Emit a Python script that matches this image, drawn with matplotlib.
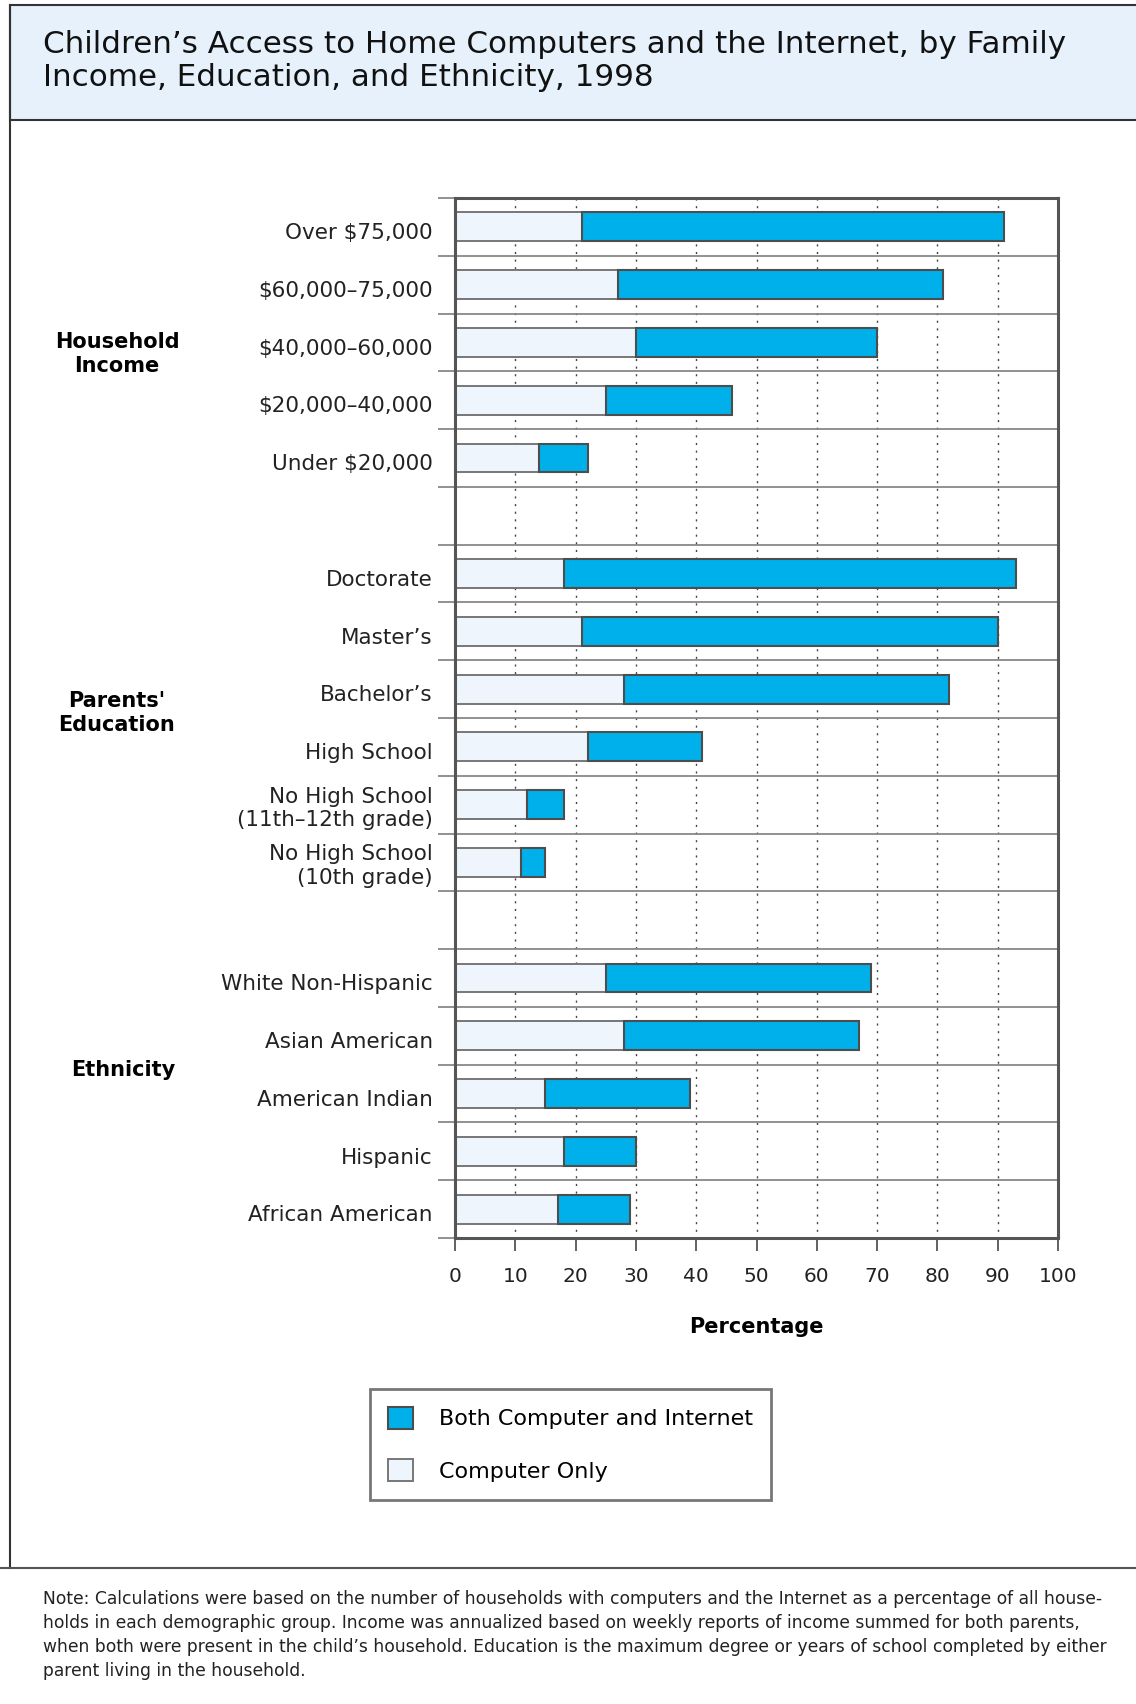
import numpy as np
import matplotlib
matplotlib.use('Agg')
import matplotlib.pyplot as plt
from matplotlib.patches import Rectangle
from matplotlib.lines import Line2D
from matplotlib.transforms import ScaledTranslation

plt.rcParams['font.family'] = ['DejaVu Sans']

# Data (percent of children)
income_labels = ['Over $75,000', '$60,000–75,000', '$40,000–60,000',
                 '$20,000–40,000', 'Under $20,000']
income_computer_only = [21, 27, 30, 25, 14]
income_both = [70, 54, 40, 21, 8]

education_labels = ['Doctorate', 'Master’s', 'Bachelor’s', 'High School',
                    'No High School\n(11th–12th grade)', 'No High School\n(10th grade)']
education_computer_only = [18, 21, 28, 22, 12, 11]
education_both = [75, 69, 54, 19, 6, 4]

ethnicity_labels = ['White Non-Hispanic', 'Asian American', 'American Indian',
                    'Hispanic', 'African American']
ethnicity_computer_only = [25, 28, 15, 18, 17]
ethnicity_both = [44, 39, 24, 12, 12]

group_names = ['Household\nIncome', "Parents'\nEducation", 'Ethnicity']

title = ('Children’s Access to Home Computers and the Internet, by Family\n'
         'Income, Education, and Ethnicity, 1998')
note = ('Note: Calculations were based on the number of households with computers and the Internet as a percentage of all house-\n'
        'holds in each demographic group. Income was annualized based on weekly reports of income summed for both parents,\n'
        'when both were present in the child’s household. Education is the maximum degree or years of school completed by either\n'
        'parent living in the household.')

# rows: groups separated by one empty row
labels = income_labels + education_labels + ethnicity_labels
comp = np.array(income_computer_only + education_computer_only + ethnicity_computer_only)
both = np.array(income_both + education_both + ethnicity_both)
ypos = np.concatenate([np.arange(0, 5), np.arange(6, 12), np.arange(13, 18)])
nrows = 18

W, H = 1136, 1704
def fx(x):
    return x / W
def fy(y):
    return 1 - y / H

fig = plt.figure(figsize=(W / 100, H / 100), dpi=100)

# header band and frame lines
fig.add_artist(Rectangle((fx(10), fy(120)), 1.0, (120 - 5) / H, transform=fig.transFigure,
                         facecolor='#e6f1fb', edgecolor='#333333', lw=1.5))
fig.add_artist(Line2D([fx(10), fx(10)], [fy(5), fy(1568)], color='#333333', lw=1.5))
fig.add_artist(Line2D([0, 1], [fy(1568), fy(1568)], color='#555555', lw=1.5))

fig.text(fx(43), fy(30), title, fontsize=22.3, va='top', ha='left',
         linespacing=1.18, color='#111111')

ax = fig.add_axes([fx(455), fy(1238), fx(1058) - fx(455), (1238 - 198) / H])

ax.vlines(np.arange(10, 100, 10), -0.5, nrows - 0.5, colors='#444444',
          linestyles=(0, (1.5, 4)), lw=1.0, zorder=1)
ax.hlines(np.arange(-0.5, nrows, 1), -2.9, 100, colors='#888888', lw=1.3,
          clip_on=False, zorder=2)

ax.barh(ypos, comp, height=0.5, color='#eef5fc', edgecolor='#777777', lw=1.4,
        label='Computer Only', zorder=3)
ax.barh(ypos, both, left=comp, height=0.5, color='#00b0ea', edgecolor='#4d4d4d', lw=1.5,
        label='Both Computer and Internet', zorder=3)

ax.set_xlim(0, 100)
ax.set_ylim(nrows - 0.5, -0.5)
for s in ax.spines.values():
    s.set_color('#555555')
    s.set_linewidth(2.2)
    s.set_zorder(4)

ax.set_xticks(np.arange(0, 101, 10))
ax.tick_params(axis='x', direction='out', length=9, width=1.3, color='#555555',
               labelsize=14.5, pad=12, labelcolor='#222222')
ax.set_yticks(ypos)
ax.set_yticklabels(labels)
ax.tick_params(axis='y', length=0, pad=16, labelsize=15.5, labelcolor='#222222')
# single-line labels sit a little below the bar centre
for lab in ax.get_yticklabels():
    if '\n' not in lab.get_text():
        lab.set_transform(lab.get_transform() + ScaledTranslation(0, -3 / 72, fig.dpi_scale_trans))
ax.set_xlabel('Percentage', fontsize=15, fontweight='bold', labelpad=22)

# group labels
fig.text(fx(117), fy(354), group_names[0], fontsize=15, fontweight='bold',
         ha='center', va='center', linespacing=1.3)
fig.text(fx(117), fy(713), group_names[1], fontsize=15, fontweight='bold',
         ha='center', va='center', linespacing=1.3)
fig.text(fx(123), fy(1070), group_names[2], fontsize=15, fontweight='bold',
         ha='center', va='center')

handles, leg_labels = ax.get_legend_handles_labels()
leg = fig.legend(handles[::-1], leg_labels[::-1], loc='upper left',
                 bbox_to_anchor=(fx(370), fy(1389)), fontsize=16, frameon=True,
                 fancybox=False, edgecolor='#555555', handlelength=1.15, handleheight=1.15,
                 handletextpad=1.15, labelspacing=1.35, borderpad=0.8, borderaxespad=0)
leg.get_frame().set_linewidth(2)

fig.text(fx(43), fy(1590), note, fontsize=12.3, va='top', ha='left', linespacing=1.42,
         color='#222222')

fig.savefig('out.png', dpi=100)
